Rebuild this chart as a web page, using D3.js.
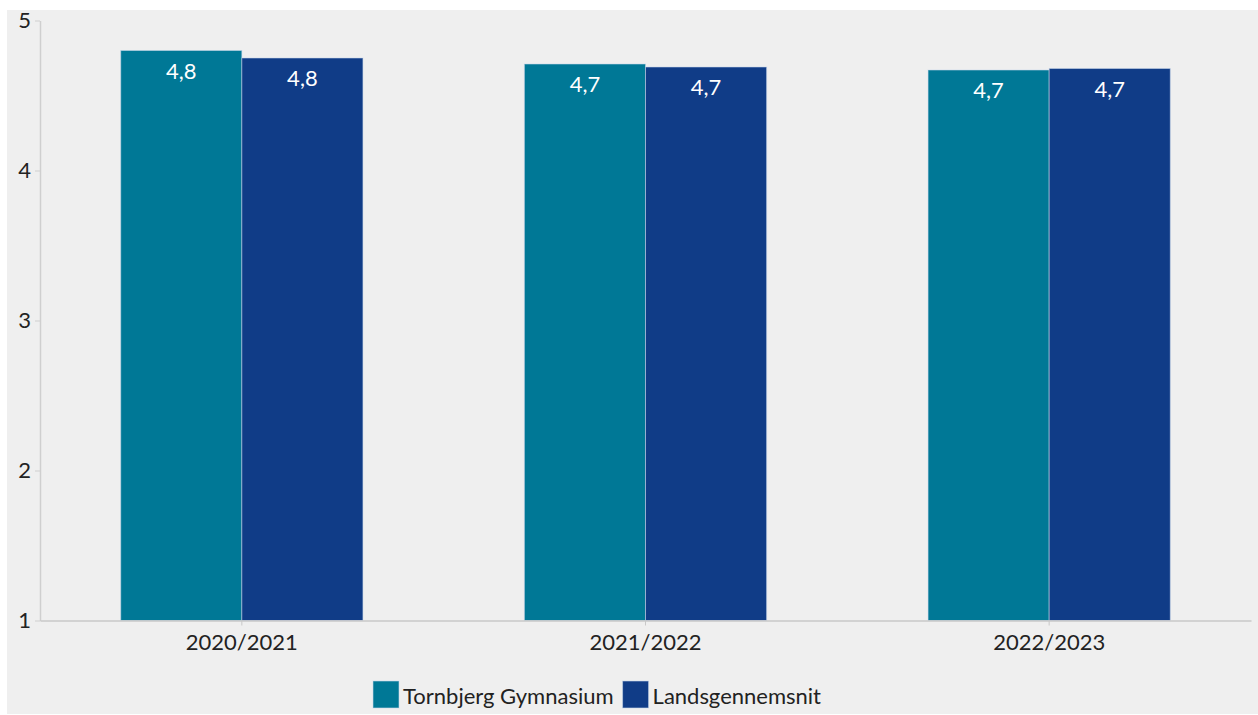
<!DOCTYPE html>
<html>
<head>
<meta charset="utf-8">
<script src="https://cdn.jsdelivr.net/npm/d3@7"></script>
<style>
  body { margin: 0; background: #fff; font-family: Lato, "Open Sans", sans-serif; }
</style>
</head>
<body>
<svg id="chart" width="1258" height="715"></svg>
<script>
const years = ["2020/2021", "2021/2022", "2022/2023"];
const seriesNames = ["Tornbjerg Gymnasium", "Landsgennemsnit"];
const tornbjerg = [4.80, 4.71, 4.67];
const landsgennemsnit = [4.75, 4.69, 4.68];
const yTicks = [1, 2, 3, 4, 5];
const colors = ["#007896", "#103c87"];

const fmt = v => d3.format(".1f")(v).replace(".", ",");

const svg = d3.select("#chart");

// panel background
svg.append("rect")
  .attr("x", 7).attr("y", 10)
  .attr("width", 1251).attr("height", 704)
  .attr("fill", "#efefef");

const margin = { left: 40, right: 1251, top: 20.5, bottom: 620.5 };

const x = d3.scaleBand()
  .domain(years)
  .range([margin.left, margin.right])
  .paddingInner(0.4)
  .paddingOuter(0.2);

const xSub = d3.scaleBand()
  .domain(seriesNames)
  .range([0, x.bandwidth()]);

const y = d3.scaleLinear()
  .domain([1, 5])
  .range([margin.bottom, margin.top]);

const rows = years.map((yr, i) => ({
  year: yr,
  values: [
    { name: seriesNames[0], value: tornbjerg[i] },
    { name: seriesNames[1], value: landsgennemsnit[i] }
  ]
}));

// y axis
const yAxis = svg.append("g")
  .attr("transform", `translate(${margin.left},0)`)
  .call(d3.axisLeft(y).tickValues(yTicks).tickFormat(d3.format("d"))
    .tickSize(5).tickSizeOuter(0).tickPadding(4));
yAxis.select(".domain").attr("stroke", "#cfcfcf").attr("stroke-width", 1.5);
yAxis.selectAll(".tick line").attr("stroke", "#cfcfcf");
yAxis.selectAll(".tick text")
  .attr("fill", "#222")
  .style("font-family", "Lato, sans-serif")
  .style("font-size", "22px");

// bars
const groups = svg.append("g").selectAll("g")
  .data(rows)
  .enter()
  .append("g")
  .attr("transform", d => `translate(${x(d.year)},0)`);

groups.selectAll("rect")
  .data(d => d.values)
  .enter()
  .append("rect")
  .attr("x", d => xSub(d.name))
  .attr("y", d => y(d.value))
  .attr("width", xSub.bandwidth())
  .attr("height", d => y(1) - y(d.value))
  .attr("fill", (d, i) => colors[i])
  .attr("stroke", "rgba(200,215,235,0.55)")
  .attr("stroke-width", 1);

groups.selectAll("text")
  .data(d => d.values)
  .enter()
  .append("text")
  .attr("x", d => xSub(d.name) + xSub.bandwidth() / 2)
  .attr("y", d => y(d.value) + 28)
  .attr("text-anchor", "middle")
  .attr("fill", "#fff")
  .style("font-family", "Lato, sans-serif")
  .style("font-size", "22px")
  .text(d => fmt(d.value));

// x axis
const xAxis = svg.append("g")
  .attr("transform", `translate(0,${margin.bottom})`)
  .call(d3.axisBottom(x).tickSize(5).tickSizeOuter(0).tickPadding(9));
xAxis.select(".domain").attr("stroke", "#c8c8c8").attr("stroke-width", 1.5);
xAxis.selectAll(".tick line").attr("stroke", "#c8c8c8");
xAxis.selectAll(".tick text")
  .attr("fill", "#222")
  .style("font-family", "Lato, sans-serif")
  .style("font-size", "22px");

// legend
const legend = svg.append("g");
let lx = 373;
seriesNames.forEach((name, i) => {
  legend.append("rect")
    .attr("x", lx).attr("y", 681)
    .attr("width", 26).attr("height", 27)
    .attr("fill", colors[i])
    .attr("stroke", "rgba(200,215,235,0.6)");
  const t = legend.append("text")
    .attr("x", lx + 30).attr("y", 704)
    .attr("fill", "#222")
    .style("font-family", "Lato, sans-serif")
    .style("font-size", "22px")
    .text(name);
  lx += 30 + t.node().getComputedTextLength() + 9;
});
</script>
</body>
</html>
